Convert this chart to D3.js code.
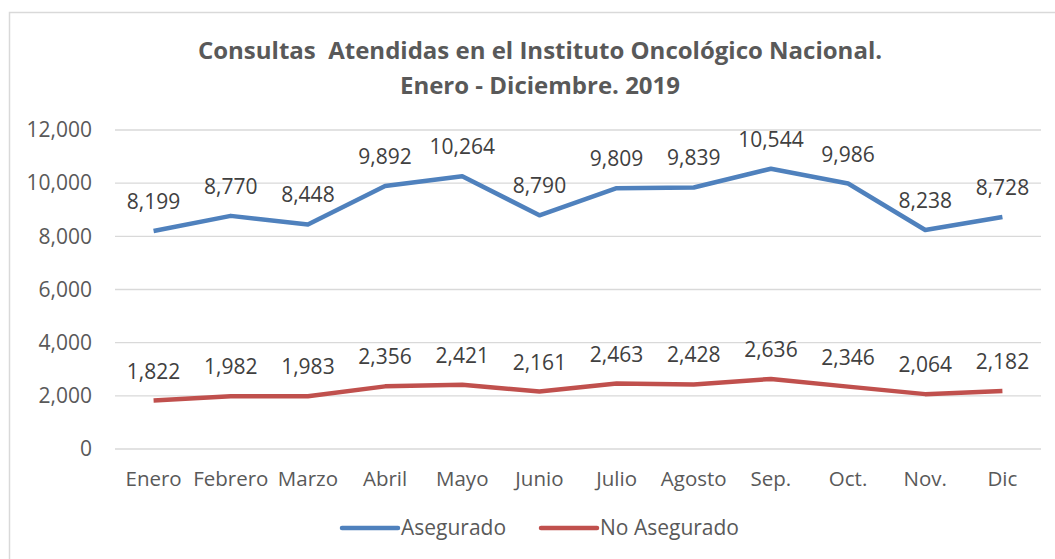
<!DOCTYPE html>
<html>
<head>
<meta charset="utf-8">
<script src="https://cdn.jsdelivr.net/npm/d3@7"></script>
<style>
  body { margin: 0; background: #fff; }
  svg { display: block; font-family: "Open Sans", sans-serif; }
</style>
</head>
<body>
<svg id="chart" width="1055" height="559"></svg>
<script>
// data
const months = ['Enero', 'Febrero', 'Marzo', 'Abril', 'Mayo', 'Junio', 'Julio', 'Agosto', 'Sep.', 'Oct.', 'Nov.', 'Dic'];
const asegurado = [8199, 8770, 8448, 9892, 10264, 8790, 9809, 9839, 10544, 9986, 8238, 8728];
const noAsegurado = [1822, 1982, 1983, 2356, 2421, 2161, 2463, 2428, 2636, 2346, 2064, 2182];
const yTicks = [0, 2000, 4000, 6000, 8000, 10000, 12000];
const seriesNames = ['Asegurado', 'No Asegurado'];
const seriesColors = ['#4f81bd', '#c0504d'];

const svg = d3.select('#chart');
const fmt = d3.format(',');

// chart frame (only top/left visible in the crop)
svg.append('rect')
  .attr('x', 9.5).attr('y', 12.5)
  .attr('width', 1060).attr('height', 560)
  .attr('fill', 'none')
  .attr('stroke', '#d9d9d9')
  .attr('stroke-width', 1.5);

// title
const title = svg.append('text')
  .attr('text-anchor', 'middle')
  .attr('fill', '#595959')
  .style('font-size', '24px')
  .style('font-weight', 'bold')
  .style('white-space', 'pre');
title.append('tspan').attr('x', 540).attr('y', 59).text('Consultas  Atendidas en el Instituto Oncológico Nacional.');
title.append('tspan').attr('x', 540).attr('y', 94).text('Enero - Diciembre. 2019');

const xScale = d3.scaleBand().domain(months).range([115, 1041]);
const yScale = d3.scaleLinear().domain([0, 12000]).range([449, 130]);

// gridlines
svg.append('g')
  .selectAll('line')
  .data(yTicks)
  .enter()
  .append('line')
  .attr('x1', 115).attr('x2', 1041)
  .attr('y1', (d) => yScale(d)).attr('y2', (d) => yScale(d))
  .attr('stroke', '#d9d9d9')
  .attr('stroke-width', 1.3);

// y axis labels
const yAxis = svg.append('g')
  .attr('transform', 'translate(92,0)')
  .call(d3.axisLeft(yScale).tickValues(yTicks).tickFormat(fmt).tickSize(0).tickPadding(0));
yAxis.select('.domain').remove();
yAxis.selectAll('text')
  .attr('fill', '#595959')
  .style('font-size', '21px')
  .style('font-family', '"Open Sans", sans-serif');

// x axis labels
const xAxis = svg.append('g')
  .attr('transform', 'translate(0,471)')
  .call(d3.axisBottom(xScale).tickSize(0).tickPadding(0));
xAxis.select('.domain').remove();
xAxis.selectAll('text')
  .attr('fill', '#595959')
  .style('font-size', '20.5px')
  .style('font-family', '"Open Sans", sans-serif');

const xc = (m) => xScale(m) + xScale.bandwidth() / 2;
const line = d3.line()
  .x((d, i) => xc(months[i]))
  .y((d) => yScale(d));

[asegurado, noAsegurado].forEach((vals, s) => {
  svg.append('path')
    .datum(vals)
    .attr('d', line)
    .attr('fill', 'none')
    .attr('stroke', seriesColors[s])
    .attr('stroke-width', 4.5)
    .attr('stroke-linejoin', 'round');

  svg.append('g')
    .selectAll('text')
    .data(vals)
    .enter()
    .append('text')
    .attr('x', (d, i) => xc(months[i]))
    .attr('y', (d) => yScale(d) - 22)
    .attr('text-anchor', 'middle')
    .attr('fill', '#404040')
    .style('font-size', '21px')
    .text((d) => fmt(d));
});

// legend
const legend = svg.append('g')
  .selectAll('g')
  .data(seriesNames)
  .enter()
  .append('g')
  .attr('transform', (d, i) => `translate(${342 + i * 199},528)`);
legend.append('line')
  .attr('x1', 0).attr('x2', 56)
  .attr('stroke', (d, i) => seriesColors[i])
  .attr('stroke-width', 4.5)
  .attr('stroke-linecap', 'round');
legend.append('text')
  .attr('x', 59).attr('y', 7)
  .attr('fill', '#595959')
  .style('font-size', '21px')
  .text((d) => d);
</script>
</body>
</html>
